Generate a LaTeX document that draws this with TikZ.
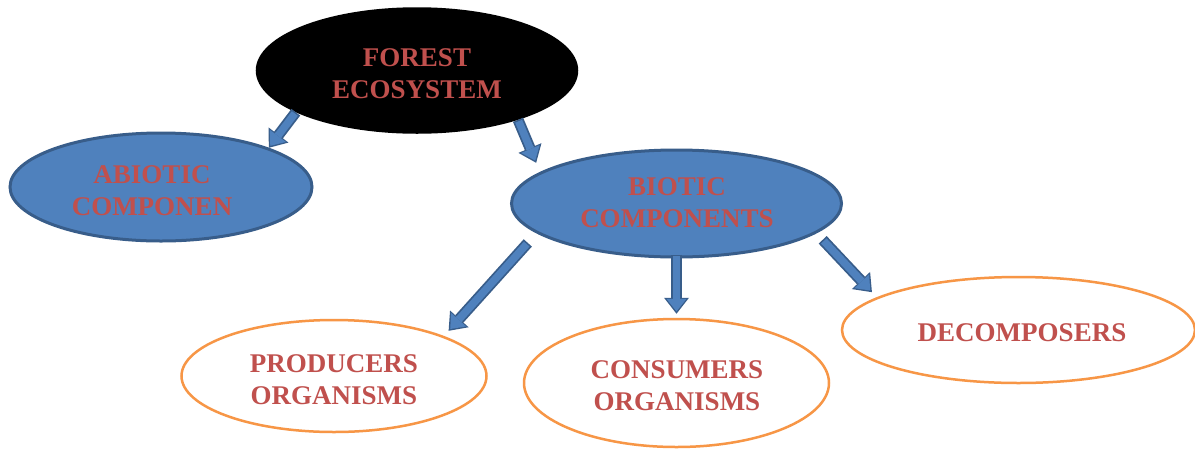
\documentclass[tikz,border=0pt]{standalone}
\usepackage{fontspec}
\setmainfont{Liberation Serif}
\usetikzlibrary{shapes.geometric,arrows.meta}
\definecolor{bluefill}{HTML}{4F81BD}
\definecolor{blueborder}{HTML}{385D8A}
\definecolor{orangeline}{HTML}{F79646}
\definecolor{textred}{HTML}{C0504D}
\tikzset{
  ell/.style={ellipse, inner sep=0pt, line width=2.5pt},
  blackell/.style={ell, fill=black, draw=black},
  blueell/.style={ell, fill=bluefill, draw=blueborder, line width=3pt},
  orangeell/.style={ell, fill=white, draw=orangeline},
  lbl/.style={text=textred, align=center, inner sep=0pt, font=\bfseries\fontsize{27}{32}\selectfont},
  barrow/.style n args={2}{draw=blueborder, line width=11pt,
    -{Triangle[width=25pt,length=16pt,line width=0pt]},
    shorten <=#1, shorten >=#2,
    postaction={draw=bluefill, line width=7.5pt,
      -{Triangle[width=20pt,length=12.5pt,line width=0pt]},
      shorten <=#1+1.6pt, shorten >=#2+2.4pt}}
}
\begin{document}
\begin{tikzpicture}[x=1pt,y=-1pt]
\useasboundingbox[fill=white] (0,0) rectangle (1195,448);
% ellipses
\node[blackell, minimum width=320pt, minimum height=124pt] (forest) at (417,70.5) {};
\node[blueell, minimum width=302pt, minimum height=108pt] (abiotic) at (161,187) {};
\node[blueell, minimum width=330pt, minimum height=107pt] (biotic) at (676.5,203.5) {};
\node[orangeell, minimum width=305pt, minimum height=112pt] (producers) at (334,376) {};
\node[orangeell, minimum width=305pt, minimum height=128pt] (consumers) at (676.5,383) {};
\node[orangeell, minimum width=353pt, minimum height=106pt] (decomposers) at (1018.5,330) {};
% arrows
\draw[barrow={0pt}{0pt}] (forest.199) -- (abiotic.20);
\draw[barrow={0pt}{10pt}] (forest.334) -- (biotic.167);
\draw[barrow={13pt}{7pt}] (biotic.192) -- (producers.20);
\draw[barrow={-4pt}{4pt}] (biotic.south) -- (consumers.north);
\draw[barrow={9pt}{7pt}] (biotic.348.5) -- (decomposers.167);
% labels
\node[lbl] (forestT) at (417,74) {FOREST\\ECOSYSTEM};
\node[lbl] (abioticT) at (152,191) {ABIOTIC\\COMPONEN};
\node[lbl] (bioticT) at (677,203) {BIOTIC\\COMPONENTS};
\node[lbl] (producersT) at (334,380) {PRODUCERS\\ORGANISMS};
\node[lbl] (consumersT) at (677,386) {CONSUMERS\\ORGANISMS};
\node[lbl] (decompT) at (1022,333) {DECOMPOSERS};
\end{tikzpicture}
\end{document}
